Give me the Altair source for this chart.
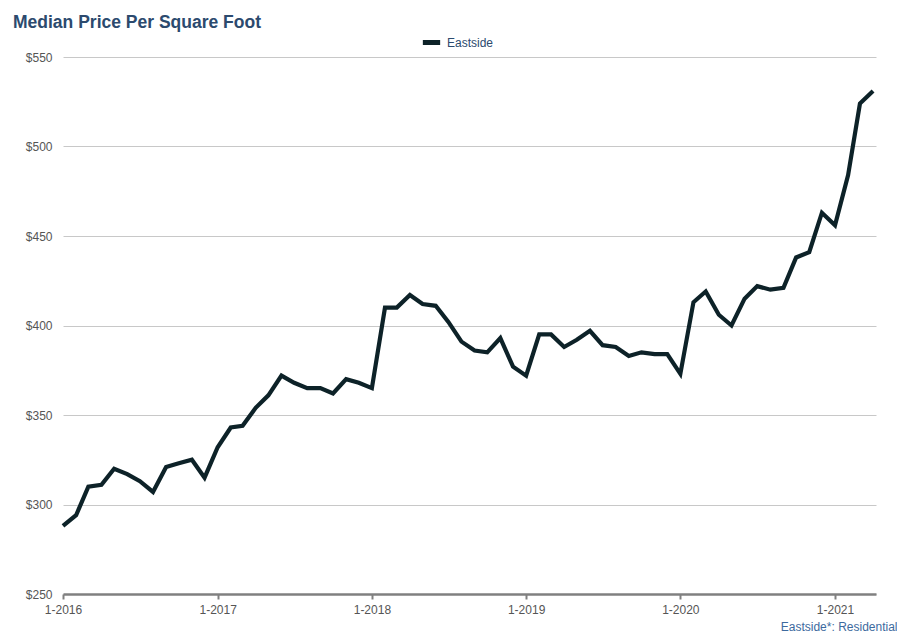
import altair as alt
import pandas as pd

start_year = 2016
start_month = 1
prices = [
    288, 294, 310, 311, 320, 317, 313, 307, 321, 323, 325, 315,
    332, 343, 344, 354, 361, 372, 368, 365, 365, 362, 370, 368,
    365, 410, 410, 417, 412, 411, 402, 391, 386, 385, 393, 377,
    372, 395, 395, 388, 392, 397, 389, 388, 383, 385, 384, 384,
    373, 413, 419, 406, 400, 415, 422, 420, 421, 438, 441, 463,
    456, 484, 524, 531,
]
series = "Eastside"
y_ticks = [250, 300, 350, 400, 450, 500, 550]

dates = pd.date_range(f"{start_year}-{start_month:02d}-01", periods=len(prices), freq="MS")
df = pd.DataFrame({"date": dates, "price": prices, "series": series})

FONT = "Liberation Sans"

chart = alt.Chart(df).mark_line(strokeWidth=4.2, strokeJoin="miter").encode(
    x=alt.X(
        "date:T",
        scale=alt.Scale(domain=["2016-01-01", "2021-04-08"]),
        axis=alt.Axis(
            title="Eastside*: Residential",
            titleColor="#3d6a9e",
            titleFont=FONT,
            titleFontSize=12,
            titleFontWeight="normal",
            titleAlign="right",
            titleAnchor="end",
            titleX=834,
            titleY=36,
            titleBaseline="alphabetic",
            format="%-m-%Y",
            tickCount={"interval": "year", "step": 1},
            grid=False,
            domainColor="#808080",
            domainWidth=2.5,
            tickColor="#808080",
            tickWidth=2,
            tickSize=5,
            labelAlign="center",
            labelFlush=False,
            labelColor="#555555",
            labelFont=FONT,
            labelFontSize=12,
            labelPadding=5,
        ),
    ),
    y=alt.Y(
        "price:Q",
        scale=alt.Scale(domain=[250, 550], nice=False, zero=False),
        axis=alt.Axis(
            title=None,
            values=y_ticks,
            format="$.0f",
            domain=False,
            ticks=False,
            gridColor="#c8c8c8",
            gridWidth=1,
            labelColor="#555555",
            labelFont=FONT,
            labelFontSize=12,
            labelPadding=11,
        ),
    ),
    color=alt.Color(
        "series:N",
        scale=alt.Scale(range=["#0d2228"]),
        legend=alt.Legend(
            title=None,
            orient="none",
            legendX=357,
            legendY=-26,
            symbolType="stroke",
            symbolStrokeWidth=5,
            symbolSize=300,
            labelColor="#2c4a6e",
            labelFont=FONT,
            labelFontSize=12,
        ),
    ),
).properties(
    width=813,
    height=537,
    autosize=alt.AutoSizeParams(type="none"),
    padding={"left": 55, "top": 49, "right": 21, "bottom": 40},
    title=alt.TitleParams(
        "Median Price Per Square Foot",
        anchor="start",
        frame="group",
        dx=-50,
        offset=0,
        font=FONT,
        fontSize=17.5,
        fontWeight="bold",
        color="#2c4a6e",
    ),
).configure_view(stroke=None)

chart.save("out.html", embed_options={"renderer": "svg", "actions": False})
